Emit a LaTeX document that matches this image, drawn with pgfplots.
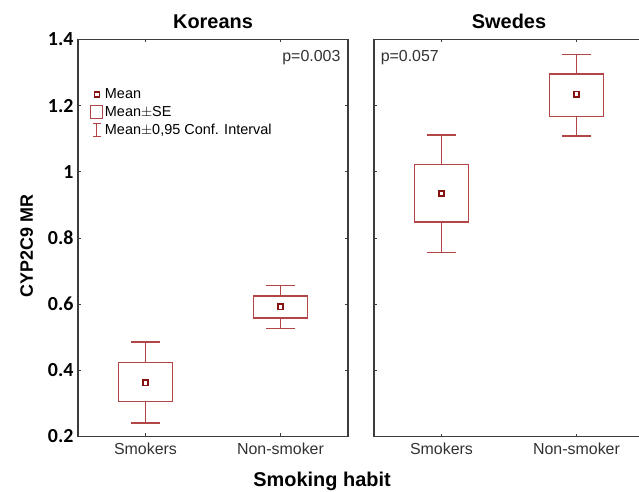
\documentclass[border=0pt]{standalone}
\usepackage{fontspec}
\setmainfont{Liberation Sans}
\newfontfamily\carlito{Carlito}
\usepackage{pgfplots}
\pgfplotsset{compat=1.18}
\usepgfplotslibrary{statistics}
\definecolor{boxred}{RGB}{178,70,70}
\definecolor{meanred}{RGB}{135,18,18}
\definecolor{axisgray}{RGB}{60,60,60}
\definecolor{textgray}{RGB}{50,50,50}
\pgfplotsset{
  panel/.style={
    scale only axis, width=270bp, height=397bp,
    xmin=-0.5, xmax=1.5, ymin=0.2, ymax=1.4,
    xtick={0,1}, xticklabels={Smokers,Non-smoker},
    ytick={0.2,0.4,0.6,0.8,1,1.2,1.4},
    tick align=inside, major tick length=3bp,
    axis line style={draw=axisgray, line width=1.3bp},
    tick style={axisgray, line width=0.8bp},
    xticklabel style={font=\fontsize{16}{18}\selectfont, text=textgray, yshift=-3bp},
    yticklabel style={font=\carlito\bfseries\fontsize{20}{22}\selectfont, xshift=-1bp},
    /pgf/number format/assume math mode=true,
    title style={font=\bfseries\fontsize{20}{24}\selectfont, yshift=1bp},
    boxplot/draw direction=y,
    boxplot/box extend=0.4,
    boxplot/whisker extend=0.21,
    boxplot/draw/median/.code={},
  },
  bx/.style={forget plot, draw=boxred, line width=1.3bp, solid, mark=none},
  mn/.style={forget plot, only marks, mark=square, mark size=2.6bp, mark options={line width=1.7bp, draw=meanred}},
}
\begin{document}
\begin{tikzpicture}
\begin{axis}[panel, name=left, at={(0,0)}, anchor=south west,
  title={Koreans},
  ylabel={CYP2C9 MR},
  every axis y label/.style={at={(axis description cs:-0.19,0.48)}, rotate=90, anchor=center, font=\bfseries\fontsize{18}{20}\selectfont},
  xlabel={Smoking habit},
  every axis x label/.style={at={(axis description cs:0.904,-0.112)}, anchor=center, font=\bfseries\fontsize{20}{22}\selectfont},
  legend style={at={(axis description cs:0.045,0.88)}, anchor=north west, draw=none, fill=none,
    font=\fontsize{14.5}{15}\selectfont, inner sep=0pt, row sep=3bp, legend cell align=left,
    nodes={inner sep=1.5bp}},
]
\addlegendimage{legend image code/.code={\draw[meanred, line width=1.5bp] (3.5bp,-2.6bp) rectangle (8.5bp,2.6bp);}}
\addlegendentry{Mean}
\addlegendimage{legend image code/.code={\draw[boxred, line width=1.1bp] (0bp,-6.5bp) rectangle (12bp,6.5bp);}}
\addlegendentry{Mean$\pm$SE}
\addlegendimage{legend image code/.code={\draw[boxred, line width=1.1bp] (2bp,-6.5bp)--(10bp,-6.5bp) (6bp,-6.5bp)--(6bp,6.5bp) (2bp,6.5bp)--(10bp,6.5bp);}}
\addlegendentry{Mean$\pm$0,95 Conf. Interval}
\addplot[bx, boxplot prepared={draw position=0, lower whisker=0.241, lower quartile=0.3055, median=0.362, upper quartile=0.4227, upper whisker=0.486}] coordinates {};
\addplot[bx, boxplot prepared={draw position=1, lower whisker=0.526, lower quartile=0.558, median=0.592, upper quartile=0.625, upper whisker=0.656}] coordinates {};
\addplot[mn] coordinates {(0,0.362) (1,0.592)};
\node[anchor=north east, font=\fontsize{16}{18}\selectfont, text=textgray] at (axis description cs:0.985,0.982) {p=0.003};
\end{axis}
\begin{axis}[panel, name=right, at={(left.south east)}, xshift=26bp, anchor=south west,
  title={Swedes}, yticklabels={}]
\addplot[bx, boxplot prepared={draw position=0, lower whisker=0.757, lower quartile=0.848, median=0.934, upper quartile=1.0227, upper whisker=1.1115}] coordinates {};
\addplot[bx, boxplot prepared={draw position=1, lower whisker=1.108, lower quartile=1.168, median=1.235, upper quartile=1.2955, upper whisker=1.354}] coordinates {};
\addplot[mn] coordinates {(0,0.934) (1,1.235)};
\node[anchor=north west, font=\fontsize{16}{18}\selectfont, text=textgray] at (axis description cs:0.012,0.982) {p=0.057};
\end{axis}
\pgfresetboundingbox
\path[use as bounding box] ([shift={(-78bp,-55.5bp)}]left.south west) rectangle ([shift={(561bp,39.5bp)}]left.north west);
\end{tikzpicture}
\end{document}
